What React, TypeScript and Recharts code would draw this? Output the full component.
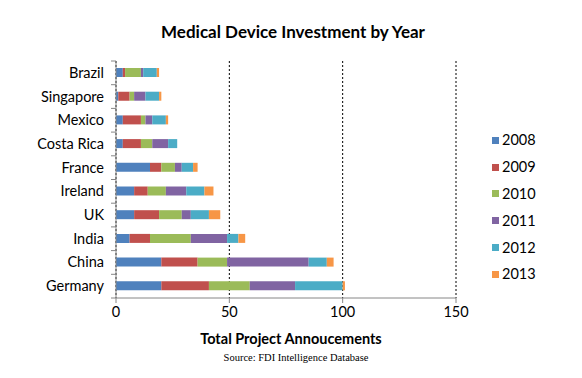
import React from 'react';
import { BarChart, Bar, XAxis, YAxis, CartesianGrid } from 'recharts';

const categories = ['Brazil', 'Singapore', 'Mexico', 'Costa Rica', 'France', 'Ireland', 'UK', 'India', 'China', 'Germany'];
const years = ['2008', '2009', '2010', '2011', '2012', '2013'];
const v2008 = [3, 1, 3, 3, 15, 8, 8, 6, 20, 20];
const v2009 = [1, 5, 8, 8, 5, 6, 11, 9, 16, 21];
const v2010 = [7, 2, 2, 5, 6, 8, 10, 18, 13, 18];
const v2011 = [1, 5, 3, 7, 3, 9, 4, 16, 36, 20];
const v2012 = [6, 6, 6, 4, 5, 8, 8, 5, 8, 21];
const v2013 = [1, 1, 1, 0, 2, 4, 5, 3, 3, 1];
const xTicks = [0, 50, 100, 150];
const colors = ['#4F81BD', '#C0504D', '#9BBB59', '#8064A2', '#4BACC6', '#F79646'];

const seriesValues = [v2008, v2009, v2010, v2011, v2012, v2013];
const data = categories.map((c, i) => {
  const row: any = { name: c };
  years.forEach((y, k) => { row[y] = seriesValues[k][i]; });
  return row;
});

const W = 582;
const H = 378;
const M = { top: 61, right: 126, bottom: 50, left: 16 };
const Y_W = 100;
const PLOT_LEFT = M.left + Y_W;
const PLOT_H = 237;
const BAND = PLOT_H / categories.length;
const FONT = 'Lato, "Open Sans", sans-serif';

const YTick = (props: any) => {
  const { y, payload, index } = props;
  return (
    <g>
      <text x={PLOT_LEFT - 12} y={y} dy={5} textAnchor="end" fontSize={14.5} fontFamily={FONT} fill="#000">
        {payload.value}
      </text>
      <line x1={PLOT_LEFT - 5} x2={PLOT_LEFT} y1={y - BAND / 2} y2={y - BAND / 2} stroke="#868686" />
      {index === categories.length - 1 && (
        <line x1={PLOT_LEFT - 5} x2={PLOT_LEFT} y1={y + BAND / 2} y2={y + BAND / 2} stroke="#868686" />
      )}
    </g>
  );
};

export default function App() {
  return (
    <div style={{ position: 'absolute', left: 0, top: 0, width: W, height: H, background: '#fff', fontFamily: FONT }}>
      <div style={{ position: 'absolute', left: 0, top: 21, width: W, textAlign: 'center', fontSize: 17, fontWeight: 700, lineHeight: '22px', paddingLeft: 4, boxSizing: 'border-box' }}>
        Medical Device Investment by Year
      </div>
      <BarChart width={W} height={H} data={data} layout="vertical" margin={M} barSize={9}>
        <CartesianGrid horizontal={false} vertical={true} stroke="#000" strokeDasharray="2 2" />
        <XAxis
          type="number"
          domain={[0, 150]}
          ticks={xTicks}
          interval={0}
          height={30}
          stroke="#868686"
          tickSize={5}
          tick={{ fontSize: 14.5, fontFamily: FONT, fill: '#000' }}
          tickMargin={4}
        />
        <YAxis
          type="category"
          dataKey="name"
          width={Y_W}
          stroke="#868686"
          tickLine={false}
          tick={<YTick />}
          interval={0}
        />
        {years.map((y, k) => (
          <Bar key={y} dataKey={y} stackId="a" fill={colors[k]} isAnimationActive={false} />
        ))}
      </BarChart>
      <div style={{ position: 'absolute', left: 0, top: 328, width: W, textAlign: 'center', fontSize: 14.5, fontWeight: 700, lineHeight: '22px' }}>
        Total Project Annoucements
      </div>
      <div style={{ position: 'absolute', left: 0, top: 351, width: W, textAlign: 'center', fontSize: 10.5, lineHeight: '14px', fontFamily: '"Liberation Serif", "Times New Roman", serif', paddingLeft: 10, boxSizing: 'border-box' }}>
        Source: FDI Intelligence Database
      </div>
      <div style={{ position: 'absolute', left: 492, top: 127 }}>
        {years.map((y, k) => (
          <div key={y} style={{ display: 'flex', alignItems: 'center', height: 26.8 }}>
            <div style={{ width: 7, height: 7, background: colors[k], marginRight: 3 }} />
            <span style={{ fontSize: 14.5, lineHeight: '20px' }}>{y}</span>
          </div>
        ))}
      </div>
    </div>
  );
}
